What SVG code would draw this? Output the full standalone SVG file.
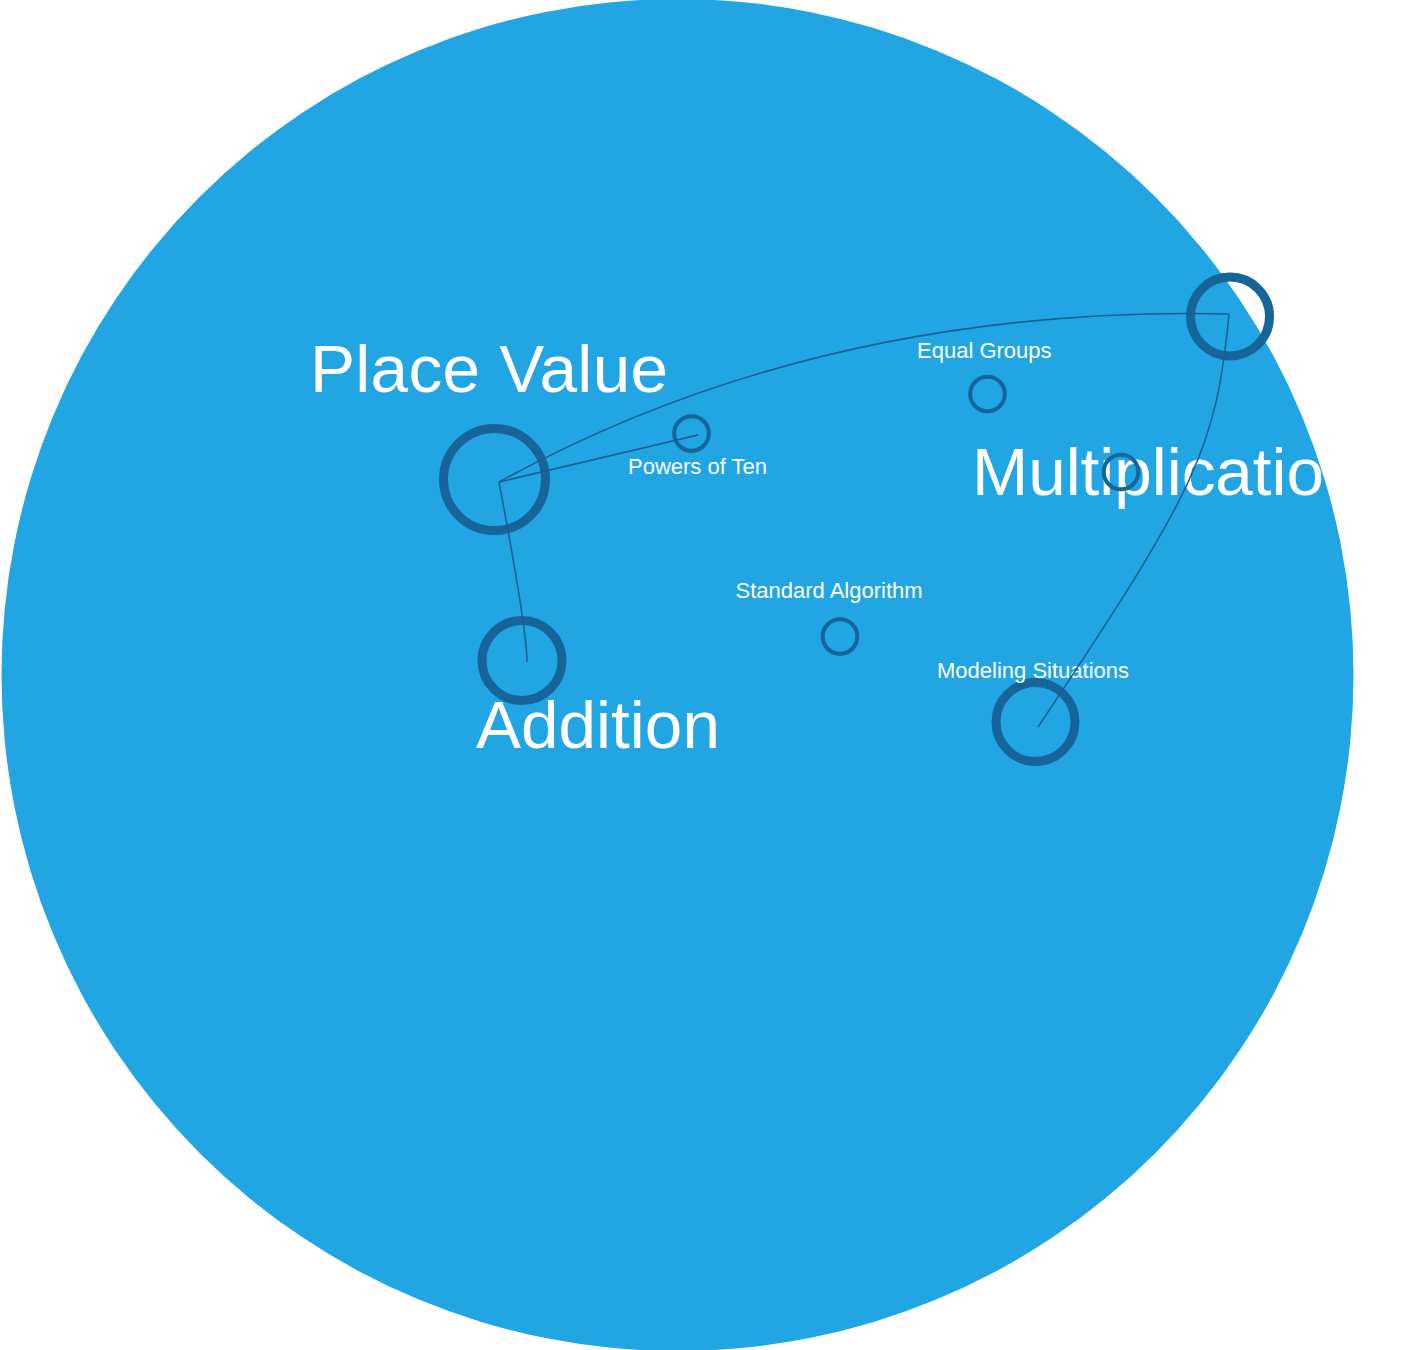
<svg xmlns="http://www.w3.org/2000/svg" width="1406" height="1350" viewBox="0 0 1406 1350">
<style>
.bg{fill:#21a5e3}
.ring{fill:none;stroke:#17649a}
.big{stroke-width:9}
.small{stroke-width:4}
.lblL{font-family:"Liberation Sans",Arial,sans-serif;font-size:67.5px;fill:#ffffff}
.lblS{font-family:"Liberation Sans",Arial,sans-serif;font-size:22px;fill:#ffffff}
.edge{fill:none;stroke:#1a5e8e;stroke-width:1.5}
</style>
<rect width="1406" height="1350" fill="#ffffff"/>
<circle class="bg" cx="677.5" cy="675" r="676"/>
<g id="nodes">
<g id="node-place-value">
<text class="lblL" x="310" y="392" textLength="358" lengthAdjust="spacing">Place Value</text>
<circle class="ring big" cx="494.5" cy="479.5" r="51"/>
</g>
<g id="node-multiplication">
<text class="lblL" x="972" y="495" textLength="352" lengthAdjust="spacing">Multiplicatio</text>
<circle class="ring big" cx="1230" cy="316.5" r="39.5"/>
</g>
<g id="node-addition">
<text class="lblL" x="476" y="748">Addition</text>
<circle class="ring big" cx="522" cy="660.5" r="40"/>
</g>
<g id="node-modeling-situations">
<circle class="ring big" cx="1035.5" cy="722" r="39.5"/>
<text class="lblS" x="937" y="678">Modeling Situations</text>
</g>
<g id="node-powers-of-ten">
<circle class="ring small" cx="691.5" cy="433.5" r="17.3"/>
<text class="lblS" x="628" y="474">Powers of Ten</text>
</g>
<g id="node-equal-groups">
<circle class="ring small" cx="987.5" cy="394" r="17.3"/>
<text class="lblS" x="917" y="358">Equal Groups</text>
</g>
<g id="node-standard-algorithm">
<circle class="ring small" cx="840" cy="636.5" r="17.3"/>
<text class="lblS" x="735.5" y="598">Standard Algorithm</text>
</g>
<g id="node-unlabeled">
<circle class="ring small" cx="1121" cy="472" r="17.3"/>
</g>
</g>
<g id="connectors">
<path class="edge" d="M499,482 L698,435"/>
<path class="edge" d="M499,482 Q821,305 1229,314"/>
<path class="edge" d="M499,482 Q527,630 527,662"/>
<path class="edge" d="M1229,314 C1216,450 1196,490 1038,727"/>
</g>
</svg>
